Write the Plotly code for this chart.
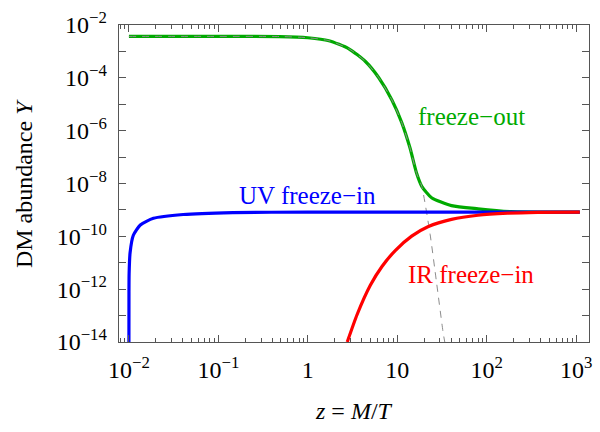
import math
import plotly.graph_objects as go

# ---- data ----
freeze_out_z = [0.01, 0.1, 0.48, 1.0, 1.72, 2.88, 4.41, 6.19, 8.71, 11.2, 13.9, 16.5, 18.8, 24.2, 40.4, 80, 186, 400, 1100]
freeze_out_Y = [3.7e-3, 3.7e-3, 3.66e-3, 3.3e-3, 2.55e-3, 1.26e-3, 4.15e-4, 1.03e-4, 1.46e-5, 2.07e-6, 2.2e-7, 2.37e-8, 7.8e-9, 2.9e-9, 1.46e-9, 1.1e-9, 8.6e-10, 8.3e-10, 8.3e-10]

equilibrium_z = [0.01, 0.1, 0.48, 1.0, 1.72, 2.88, 4.41, 6.19, 8.71, 11.2, 13.9, 16.5, 18.8, 23.3, 27.5, 32.7, 34.0]
equilibrium_Y = [3.7e-3, 3.7e-3, 3.66e-3, 3.3e-3, 2.55e-3, 1.26e-3, 4.15e-4, 1.03e-4, 1.46e-5, 2.07e-6, 2.2e-7, 2.37e-8, 7.8e-9, 1.2e-10, 1.8e-12, 2.1e-14, 1e-14]

uv_z = [0.0100, 0.01001, 0.01005, 0.0103, 0.0112, 0.0134, 0.0188, 0.0405, 0.145, 1.0, 10, 100, 1100]
uv_Y = [1e-14, 8e-13, 4e-12, 2.4e-11, 1.1e-10, 2.7e-10, 4.8e-10, 6.7e-10, 7.9e-10, 8.3e-10, 8.3e-10, 8.3e-10, 8.3e-10]

ir_z = [2.76, 3.56, 5.0, 6.75, 9.5, 14.5, 22.3, 40.4, 80, 172, 370, 1100]
ir_Y = [1e-14, 1.1e-13, 1.4e-12, 7.2e-12, 2.9e-11, 1.02e-10, 2.37e-10, 4.4e-10, 6.3e-10, 7.5e-10, 8.1e-10, 8.3e-10]

x_tick_vals = [1e-2, 1e-1, 1, 10, 1e2, 1e3]
x_tick_text = ["10<sup>−2</sup>", "10<sup>−1</sup>", "1", "10", "10<sup>2</sup>", "10<sup>3</sup>"]
y_tick_vals = [1e-2, 1e-3, 1e-4, 1e-5, 1e-6, 1e-7, 1e-8, 1e-9, 1e-10, 1e-11, 1e-12, 1e-13, 1e-14]
y_tick_text = ["10<sup>−2</sup>", "", "10<sup>−4</sup>", "", "10<sup>−6</sup>", "", "10<sup>−8</sup>", "",
               "10<sup>−10</sup>", "", "10<sup>−12</sup>", "", "10<sup>−14</sup>"]

labels = ["freeze−out", "UV freeze−in", "IR freeze−in"]
label_z = [67, 1.0, 67]
label_Y = [3.4e-6, 3.4e-9, 3.6e-12]

GREEN = "rgb(0,170,0)"
BLUE = "rgb(0,0,255)"
RED = "rgb(255,0,0)"
FONT = "Liberation Serif, Times New Roman, serif"

fig = go.Figure()
fig.add_trace(go.Scatter(x=freeze_out_z, y=freeze_out_Y, mode="lines",
                         line=dict(color=GREEN, width=3.2, shape="spline", smoothing=0.6), hoverinfo="skip"))
fig.add_trace(go.Scatter(x=equilibrium_z, y=equilibrium_Y, mode="lines",
                         line=dict(color="rgb(140,140,140)", width=1, dash="7px,6px", shape="spline", smoothing=0.6),
                         hoverinfo="skip"))
fig.add_trace(go.Scatter(x=uv_z, y=uv_Y, mode="lines",
                         line=dict(color=BLUE, width=3.2, shape="spline", smoothing=0.6), hoverinfo="skip"))
fig.add_trace(go.Scatter(x=ir_z, y=ir_Y, mode="lines",
                         line=dict(color=RED, width=3.2, shape="spline", smoothing=0.6), hoverinfo="skip"))

colors = [GREEN, BLUE, RED]
for t, zx, yy, c in zip(labels, label_z, label_Y, colors):
    fig.add_annotation(x=math.log10(zx), y=math.log10(yy), text=t,
                       showarrow=False, font=dict(family=FONT, size=25, color=c),
                       xanchor="center", yanchor="middle")

axis_common = dict(type="log", showgrid=False, zeroline=False, showline=True,
                   linecolor="#555", linewidth=1.3, mirror="allticks", ticks="inside",
                   tickcolor="#555", tickwidth=1.1, ticklabeloverflow="allow",
                   tickfont=dict(family=FONT, size=24, color="black"))

fig.update_xaxes(**axis_common, range=[-2.111, 3.144], tickmode="array",
                 tickvals=x_tick_vals, ticktext=x_tick_text, ticklen=7,
                 minor=dict(ticks="inside", ticklen=4, dtick="D1", tickcolor="#555", tickwidth=1),
                 ticklabelstandoff=6)
fig.update_yaxes(**axis_common, range=[-14, -2], tickmode="array",
                 tickvals=y_tick_vals, ticktext=y_tick_text, ticklen=7,
                 ticklabelstandoff=6)

fig.add_annotation(xref="paper", yref="paper", x=(23 - 119) / 473, y=0.5,
                   text="DM abundance <i>Y</i>", textangle=-90, showarrow=False,
                   font=dict(family=FONT, size=24, color="black"), xanchor="center", yanchor="middle")
fig.add_annotation(xref="paper", yref="paper", x=0.5, y=(342 - 414) / 330,
                   text="<i>z</i> = <i>M</i>/<i>T</i>", showarrow=False,
                   font=dict(family=FONT, size=24, color="black"), xanchor="center", yanchor="middle",
                   borderpad=0)

fig.update_layout(width=600, height=432, showlegend=False,
                  margin=dict(l=119, r=8, t=12, b=90, pad=0),
                  paper_bgcolor="white", plot_bgcolor="white")

fig.write_html("out.html", config={"displayModeBar": False, "staticPlot": True},
               post_script="document.body.style.margin='0';")
